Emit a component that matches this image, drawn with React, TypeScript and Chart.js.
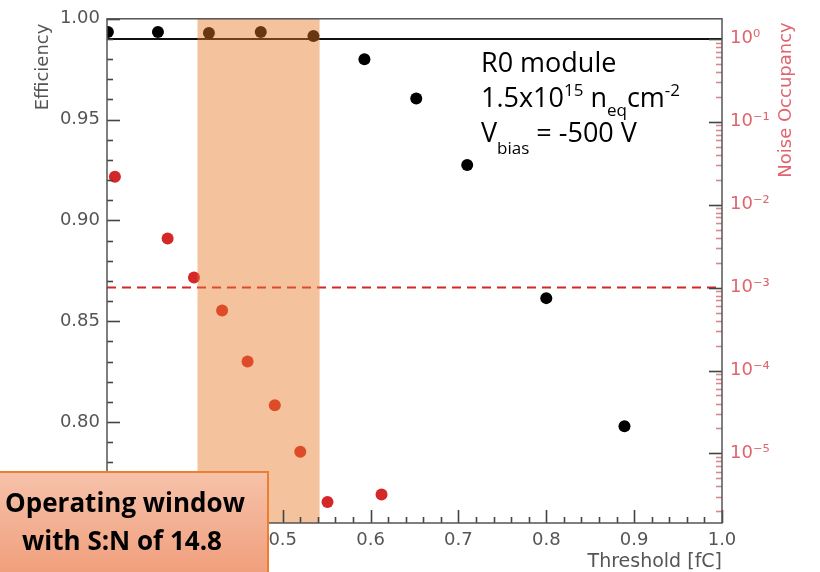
import React, { useEffect, useRef } from "react";
import { Chart, registerables } from "chart.js";

Chart.register(...registerables);

// ---- data ----
const effThreshold = [0.301, 0.358, 0.416, 0.475, 0.535, 0.593, 0.652, 0.71, 0.8, 0.889];
const efficiency = [0.9935, 0.9935, 0.993, 0.9935, 0.9915, 0.98, 0.9605, 0.9275, 0.8615, 0.798];
const noiseThreshold = [0.309, 0.369, 0.399, 0.431, 0.46, 0.491, 0.52, 0.551, 0.6125];
const noiseOccupancy = [2.17e-2, 3.9e-3, 1.32e-3, 5.3e-4, 1.28e-4, 3.8e-5, 1.05e-5, 2.6e-6, 3.2e-6];

const thresholdTicks = [0.3, 0.4, 0.5, 0.6, 0.7, 0.8, 0.9, 1.0];
const efficiencyTicks = [0.75, 0.8, 0.85, 0.9, 0.95, 1.0];
const noiseDecades = [1e0, 1e-1, 1e-2, 1e-3, 1e-4, 1e-5];

const efficiencyLine = 0.99;
const noiseLimit = 1e-3;
const operatingWindow = [0.403, 0.542];

const SUP: Record<string, string> = {
  "0": "⁰", "1": "¹", "2": "²", "3": "³", "4": "⁴", "5": "⁵", "6": "⁶", "7": "⁷", "8": "⁸", "9": "⁹", "-": "⁻",
};
const decadeLabel = (v: number) => {
  const e = Math.round(Math.log10(v));
  return "10" + String(e).split("").map((c) => SUP[c] || c).join("");
};

const GRAY = "#555555";
const NOISE_COLOR = "#e0646e";

const overlayPlugin = {
  id: "overlay",
  beforeDatasetsDraw(chart: any) {
    const { ctx, chartArea: a, scales } = chart;
    ctx.save();
    const y = scales.y.getPixelForValue(efficiencyLine);
    ctx.strokeStyle = "#111";
    ctx.lineWidth = 2;
    ctx.beginPath();
    ctx.moveTo(a.left, y);
    ctx.lineTo(a.right, y);
    ctx.stroke();
    const y2 = scales.y1.getPixelForValue(noiseLimit);
    ctx.strokeStyle = "#d62728";
    ctx.setLineDash([9, 6]);
    ctx.beginPath();
    ctx.moveTo(a.left, y2);
    ctx.lineTo(a.right, y2);
    ctx.stroke();
    ctx.restore();
  },
  afterDatasetsDraw(chart: any) {
    const { ctx, chartArea: a, scales } = chart;
    ctx.save();
    // operating window band
    const x1 = scales.x.getPixelForValue(operatingWindow[0]);
    const x2 = scales.x.getPixelForValue(operatingWindow[1]);
    ctx.fillStyle = "rgba(232,120,40,0.45)";
    ctx.fillRect(x1, a.top, x2 - x1, a.bottom - a.top);

    // inward tick marks
    ctx.lineWidth = 1.6;
    const tick = (x0: number, y0: number, x1_: number, y1_: number, color: string) => {
      ctx.strokeStyle = color;
      ctx.beginPath();
      ctx.moveTo(x0, y0);
      ctx.lineTo(x1_, y1_);
      ctx.stroke();
    };
    // bottom
    for (let i = 0; i <= 35; i++) {
      const v = 0.3 + i * 0.02;
      const px = Math.round(scales.x.getPixelForValue(v)) + 0.5;
      const major = i % 5 === 0;
      tick(px, a.bottom, px, a.bottom - (major ? 13 : 6), "#444");
    }
    // left
    for (let i = 0; i <= 25; i++) {
      const v = 0.75 + i * 0.01;
      const py = Math.round(scales.y.getPixelForValue(v)) + 0.5;
      const major = i % 5 === 0;
      tick(a.left, py, a.left + (major ? 13 : 6), py, "#444");
    }
    // right (log)
    for (let e = -6; e <= 0; e++) {
      for (let m = 1; m <= 9; m++) {
        const v = m * Math.pow(10, e);
        if (v < scales.y1.min || v > scales.y1.max) continue;
        const py = Math.round(scales.y1.getPixelForValue(v)) + 0.5;
        tick(a.right, py, a.right - (m === 1 ? 13 : 6), py, m === 1 ? "#444" : "#d98890");
      }
    }
    // frame
    ctx.strokeStyle = GRAY;
    ctx.lineWidth = 1.5;
    ctx.strokeRect(a.left, a.top, a.right - a.left, a.bottom - a.top);
    ctx.restore();
  },
  afterDraw(chart: any) {
    const { ctx } = chart;
    ctx.save();
    // axis titles
    ctx.font = "18px 'DejaVu Sans'";
    ctx.fillStyle = GRAY;
    ctx.textAlign = "center";
    ctx.textBaseline = "middle";
    ctx.save();
    ctx.translate(43, 67);
    ctx.rotate(-Math.PI / 2);
    ctx.fillText("Efficiency", 0, 0);
    ctx.restore();
    ctx.save();
    ctx.translate(786, 100);
    ctx.rotate(-Math.PI / 2);
    ctx.fillStyle = NOISE_COLOR;
    ctx.fillText("Noise Occupancy", 0, 0);
    ctx.restore();
    ctx.textAlign = "right";
    ctx.textBaseline = "alphabetic";
    ctx.font = "19px 'DejaVu Sans'";
    ctx.fillText("Threshold [fC]", 722, 567);

    // annotation text
    ctx.fillStyle = "#000";
    ctx.textAlign = "left";
    const big = "27px 'Open Sans'";
    const small = "17px 'Open Sans'";
    const seg = (parts: [string, string, number][], x: number, base: number) => {
      let cx = x;
      for (const [t, f, dy] of parts) {
        ctx.font = f;
        ctx.fillText(t, cx, base + dy);
        cx += ctx.measureText(t).width;
      }
    };
    seg([["R0 module", big, 0]], 481, 72);
    seg(
      [
        ["1.5x10", big, 0],
        ["15", small, -11],
        [" n", big, 0],
        ["eq", small, 9],
        ["cm", big, 0],
        ["-2", small, -11],
      ],
      481,
      107
    );
    seg(
      [
        ["V", big, 0],
        ["bias", small, 12],
        [" = -500 V", big, 0],
      ],
      481,
      142
    );

    // operating window callout
    const bx = -6, by = 472, bw = 274, bh = 110;
    const g = ctx.createLinearGradient(0, by, 0, by + bh);
    g.addColorStop(0, "#f6c2aa");
    g.addColorStop(1, "#f09c78");
    ctx.fillStyle = g;
    ctx.fillRect(bx, by, bw, bh);
    ctx.strokeStyle = "#ed7d31";
    ctx.lineWidth = 2;
    ctx.strokeRect(bx, by, bw, bh);
    ctx.fillStyle = "#000";
    ctx.font = "bold 26px 'Open Sans'";
    ctx.textAlign = "center";
    ctx.fillText("Operating window", 125, 512);
    ctx.fillText("with S:N of 14.8", 122, 550);
    ctx.restore();
  },
};

export default function App() {
  const ref = useRef<HTMLCanvasElement | null>(null);
  useEffect(() => {
    if (!ref.current) return;
    const chart = new Chart(ref.current, {
      type: "scatter",
      data: {
        datasets: [
          {
            label: "Efficiency",
            data: effThreshold.map((x, i) => ({ x, y: efficiency[i] })),
            yAxisID: "y",
            backgroundColor: "#000000",
            borderColor: "#000000",
            pointRadius: 6,
            pointBorderWidth: 0,
          },
          {
            label: "Noise Occupancy",
            data: noiseThreshold.map((x, i) => ({ x, y: noiseOccupancy[i] })),
            yAxisID: "y1",
            backgroundColor: "#d62728",
            borderColor: "#d62728",
            pointRadius: 6,
            pointBorderWidth: 0,
          },
        ],
      },
      options: {
        animation: false,
        responsive: false,
        devicePixelRatio: 1,
        layout: { padding: { top: 18, left: 0, right: 0, bottom: 0 } },
        plugins: { legend: { display: false }, tooltip: { enabled: false } },
        scales: {
          x: {
            type: "linear",
            min: 0.3,
            max: 1.0,
            grid: { display: false, drawTicks: false },
            border: { display: false },
            afterBuildTicks: (s: any) => {
              s.ticks = thresholdTicks.map((v) => ({ value: v }));
            },
            afterFit: (s: any) => {
              s.height = 49;
            },
            ticks: {
              autoSkip: false,
              maxRotation: 0,
              padding: 7,
              color: GRAY,
              font: { family: "'DejaVu Sans'", size: 18 },
              callback: (v: any) => Number(v).toFixed(1),
            },
          },
          y: {
            type: "linear",
            position: "left",
            min: 0.75,
            max: 1.0,
            grid: { display: false, drawTicks: false },
            border: { display: false },
            afterBuildTicks: (s: any) => {
              s.ticks = efficiencyTicks.map((v) => ({ value: v }));
            },
            afterFit: (s: any) => {
              s.width = 107;
            },
            ticks: {
              autoSkip: false,
              padding: 7,
              color: GRAY,
              font: { family: "'DejaVu Sans'", size: 18 },
              callback: (v: any) => Number(v).toFixed(2),
            },
          },
          y1: {
            type: "logarithmic",
            position: "right",
            min: 1.45e-6,
            max: 1.74,
            grid: { display: false, drawTicks: false },
            border: { display: false },
            afterBuildTicks: (s: any) => {
              s.ticks = noiseDecades.map((v) => ({ value: v }));
            },
            afterFit: (s: any) => {
              s.width = 98;
            },
            ticks: {
              autoSkip: false,
              padding: 8,
              color: NOISE_COLOR,
              font: { family: "'DejaVu Sans'", size: 18 },
              callback: (v: any) => decadeLabel(Number(v)),
            },
          },
        },
      } as any,
      plugins: [overlayPlugin],
    });
    return () => chart.destroy();
  }, []);
  return (
    <div style={{ position: "fixed", left: 0, top: 0, width: 820, height: 572, background: "#fff" }}>
      <canvas ref={ref} width={820} height={572} style={{ width: 820, height: 572, display: "block" }} />
    </div>
  );
}
